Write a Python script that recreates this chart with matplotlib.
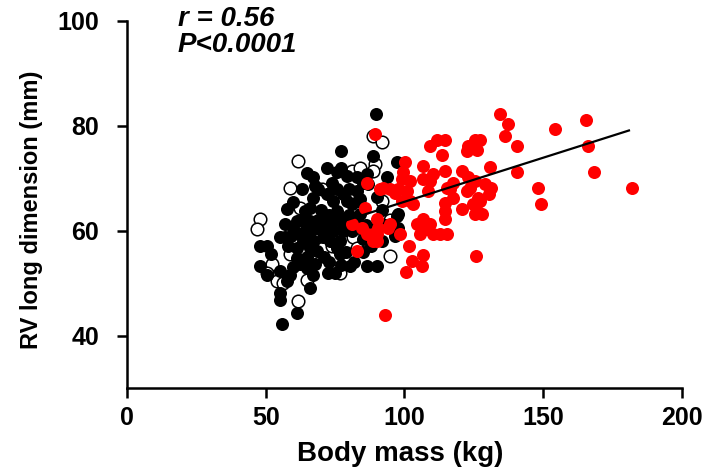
import numpy as np
from matplotlib import pyplot as plt

plt.rcParams['font.family'] = ['Liberation Sans', 'DejaVu Sans']
plt.rcParams['font.weight'] = 'bold'

# (body mass kg, RV long dimension mm)
black_pts = [(89.7,82.2),(88.8,74.3),(77.0,75.1),(97.2,73.0),(75.6,71.1),(79.2,70.5),(82.8,70.2),
             (67.1,70.2),(67.7,68.6),(68.9,67.9),(93.6,70.2),(75.6,67.9),(78.0,67.0),(82.8,67.6),
             (83.4,65.7),(79.2,65.7),(67.1,66.3),(66.0,64.4),(64.1,63.8),(57.5,64.1),(56.9,61.2),
             (61.2,61.9),(66.0,61.9),(74.3,65.7),(75.6,63.8),(74.3,61.9),(76.8,62.5),(74.3,59.9),
             (72.0,60.6),(68.4,60.6),(78.0,59.9),(76.8,58.0),(73.2,58.0),(70.7,58.7),(97.2,62.8),
             (97.8,60.6),(56.9,58.7),(59.9,60.6),(62.3,59.3),(63.5,58.0),(67.1,58.0),(47.9,57.1),
             (50.3,57.1),(55.1,58.7),(61.2,56.7),(66.0,56.7),(68.4,56.1),(75.6,56.7),(76.8,55.5),
             (61.2,54.8),(62.3,53.6),(64.8,52.9),(67.7,53.6),(67.1,51.6),(47.9,53.2),(50.3,51.6),
             (55.1,52.3),(58.7,51.6),(57.5,50.4),(72.5,52.0),(75.0,52.0),(80.4,53.2),(86.4,53.2),
             (90.0,53.2),(55.1,48.1),(55.1,46.8),(66.0,49.1),(61.2,44.3),(55.7,42.2),(84.0,63.1),
             (82.8,61.9),(91.8,58.0),(87.0,68.9),(86.4,70.8),(97.8,63.1),(96.6,59.0),(70.0,64.0),
             (72.0,67.0),(80.0,63.0),(81.0,60.0),(85.0,58.5),(71.0,55.0),(60.0,65.5),(63.0,62.0),
             (52.0,55.5),(58.0,57.0),(79.0,56.0),(84.0,66.0),(86.0,61.0),(89.0,60.5),(63.0,68.0),
             (65.0,71.0),(72.0,72.0),(74.0,69.0),(77.0,72.0),(80.0,68.0),(69.0,62.0),(71.0,62.5),
             (73.0,63.0),(78.0,61.0),(64.0,60.0),(59.0,59.0),(60.0,53.0),(65.0,55.0),(73.0,54.0),
             (77.0,53.5),(82.0,54.0),(85.0,56.0),(88.0,57.0),(93.0,61.0),(81.0,65.0),(85.0,69.0),
             (90.0,66.5),(92.0,64.0),(66.0,59.5),(70.0,60.5)]

open_pts = [(88.8,78.1),(91.8,76.9),(61.7,73.2),(58.7,68.1),(47.9,62.2),(47.0,60.3),(89.4,72.7),
            (88.8,71.4),(94.8,55.1),(61.7,46.5),(52.1,53.6),(53.9,50.4),(56.3,50.0),(58.7,55.5),
            (62.3,64.4),(81.0,71.4),(73.8,68.6),(70.2,67.9),(91.8,65.7),(81.6,58.7),(82.8,56.7),
            (76.8,52.0),(69.5,57.4),(70.7,56.7),(50.3,52.0),(65.0,50.5),(84.0,72.0),(95.0,62.0),
            (74.0,57.0)]

red_pts = [(134.4,82.2),(137.3,80.3),(136.2,78.1),(140.5,76.2),(154.2,79.3),(165.4,81.2),(166.1,76.2),
           (168.3,71.2),(182.0,68.2),(140.5,71.2),(148.1,68.2),(149.2,65.1),(125.8,55.1),(93.0,44.0),
           (130.8,72.2),(131.2,68.2),(130.5,67.0),(125.4,77.2),(122.9,76.2),(126.1,75.3),(122.5,75.1),
           (111.7,77.2),(114.6,77.2),(109.2,76.2),(113.5,74.5),(106.7,72.4),(100.2,73.0),(114.6,71.4),
           (110.3,70.9),(106.7,69.9),(109.2,69.5),(120.7,71.4),(122.9,70.3),(125.4,69.5),(117.5,69.1),
           (115.3,68.2),(122.5,67.6),(123.6,68.2),(126.5,66.3),(126.1,65.3),(117.5,66.3),(114.6,65.3),
           (120.7,64.2),(125.4,63.2),(127.9,63.2),(114.6,62.2),(108.5,67.6),(104.5,61.3),(106.7,62.2),
           (109.2,61.3),(105.6,59.4),(110.3,59.4),(112.8,59.4),(115.3,59.4),(98.4,59.4),(101.6,57.1),
           (102.7,54.2),(106.3,53.2),(106.7,55.3),(100.5,52.1),(99.5,71.1),(102.0,69.5),(99.1,69.9),
           (92.3,68.2),(94.8,68.0),(96.6,67.2),(97.7,68.0),(100.9,67.6),(102.0,65.7),(99.1,65.7),
           (103.1,65.1),(114.6,63.8),(124.7,65.1),(127.2,65.7),(90.1,62.2),(90.5,60.5),(94.1,60.5),
           (94.8,61.3),(90.1,59.4),(88.6,58.0),(108.1,60.3),(127.2,77.2),(89.4,78.5),(86.5,69.1),
           (91.2,68.0),(85.8,64.3),(81.1,61.3),(84.7,60.5),(88.6,59.4),(86.5,59.4),(90.1,58.0),
           (82.9,56.1),(129.0,68.9),(116.4,67.9)]

# regression line ends
fit_x = [55.0, 181.0]
fit_slope = 0.168
fit_intercept = 48.7

xticks = [0, 50, 100, 150, 200]
yticks = [40, 60, 80, 100]

fig = plt.figure(figsize=(7.02, 4.76), dpi=100)
ax = fig.add_axes([0.181, 0.185, 0.790, 0.771])

bx, by = zip(*black_pts)
ox, oy = zip(*open_pts)
rx, ry = zip(*red_pts)

ax.scatter(ox, oy, s=82, facecolor='white', edgecolor='black', linewidth=1.1, zorder=2)
ax.scatter(bx, by, s=88, color='black', linewidth=0, zorder=3)
ax.scatter(rx, ry, s=88, color='#ff0000', linewidth=0, zorder=4)

fx = np.array(fit_x)
ax.plot(fx, fit_intercept + fit_slope * fx, color='black', lw=1.6, zorder=5)

ax.set_xlim(0, 200)
ax.set_ylim(30, 100)
ax.set_xticks(xticks)
ax.set_yticks(yticks)
for s in ['top', 'right']:
    ax.spines[s].set_visible(False)
for s in ['left', 'bottom']:
    ax.spines[s].set_linewidth(1.8)
ax.tick_params(direction='out', length=7, width=1.8, labelsize=18)
ax.tick_params(axis='y', pad=13)
ax.tick_params(axis='x', pad=6)

ax.set_xlabel('Body mass (kg)', fontsize=20, fontweight='bold')
ax.set_ylabel('RV long dimension (mm)', fontsize=17, fontweight='bold')
ax.xaxis.set_label_coords(0.492, -0.145)
ax.yaxis.set_label_coords(-0.152, 0.485)

fig.text(0.253, 0.988, 'r = 0.56\nP<0.0001', fontsize=20, fontweight='bold', style='italic',
         va='top', ha='left', linespacing=1.0)

fig.savefig('out.png', dpi=100)
